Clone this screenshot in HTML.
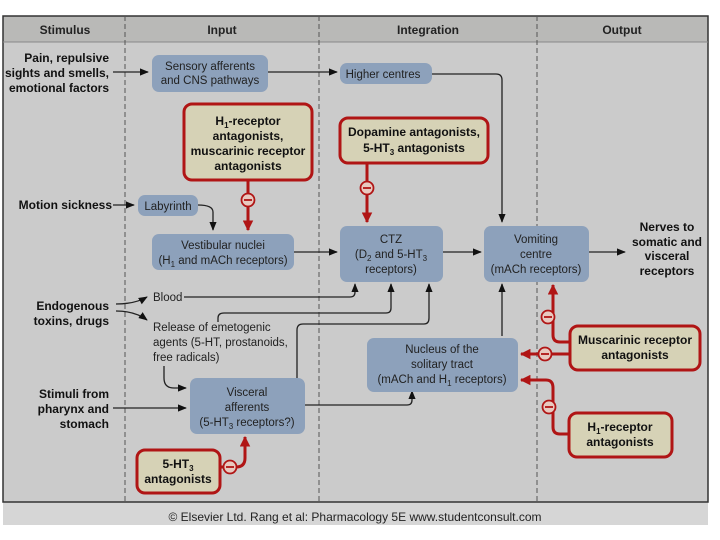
<!DOCTYPE html>
<html><head><meta charset="utf-8"><style>
body{margin:0;background:#fff}
svg{display:block}
text{font-family:"Liberation Sans",sans-serif;}
.b{font-weight:bold;font-size:12px;fill:#111}
.n{font-size:11.5px;fill:#222}
.h{font-weight:bold;font-size:12px;fill:#222}
</style></head><body>
<svg width="720" height="540" viewBox="0 0 720 540" xmlns="http://www.w3.org/2000/svg">
<defs>
<marker id="a" viewBox="0 0 10 10" refX="9" refY="5" markerWidth="7" markerHeight="7" orient="auto-start-reverse"><path d="M0,1 L10,5 L0,9 z" fill="#111"/></marker>
<marker id="r" viewBox="0 0 10 10" refX="9" refY="5" markerWidth="3.5" markerHeight="3.5" orient="auto-start-reverse"><path d="M0,0 L10,5 L0,10 z" fill="#b01515"/></marker>
</defs>
<rect x="0" y="0" width="720" height="540" fill="#fff"/>
<rect x="3" y="16" width="705" height="509" fill="#cbcbcb"/>
<rect x="3" y="16" width="705" height="26" fill="#b9b9b7"/>
<rect x="3" y="502" width="705" height="23" fill="#d6d6d6"/>
<rect x="3" y="16" width="705" height="486" fill="none" stroke="#333" stroke-width="1.5"/>
<line x1="3" y1="42" x2="708" y2="42" stroke="#888"/>
<g stroke="#555" stroke-dasharray="5,3" stroke-width="1">
<line x1="125" y1="16" x2="125" y2="502"/><line x1="319" y1="16" x2="319" y2="502"/><line x1="537" y1="16" x2="537" y2="502"/></g>
<text class="h" x="65" y="34" text-anchor="middle">Stimulus</text>
<text class="h" x="222" y="34" text-anchor="middle">Input</text>
<text class="h" x="428" y="34" text-anchor="middle">Integration</text>
<text class="h" x="622" y="34" text-anchor="middle">Output</text>
<text x="355" y="521" text-anchor="middle" font-size="12" fill="#222">© Elsevier Ltd. Rang et al: Pharmacology 5E www.studentconsult.com</text>

<g stroke="#222" stroke-width="1.3" fill="none" marker-end="url(#a)">
<path d="M113,72 H148"/>
<path d="M268,72 H337"/>
<path d="M432,74 H496 Q502,74 502,80 V222"/>
<path d="M113,205 H134"/>
<path d="M198,205 Q213,205 213,212 V230"/>
<path d="M294,252 H337"/>
<path d="M443,252 H481"/>
<path d="M589,252 H625"/>
<path d="M184,297 H350 Q355,297 355,292 V284"/>
<path d="M218,322 V318 Q218,313 224,313 H386 Q391,313 391,308 V284"/>
<path d="M297,378 V330 Q297,324 303,324 H424 Q429,324 429,318 V284"/>
<path d="M502,336 V284"/>
<path d="M305,405 H407 Q412,405 412,400 V391"/>
<path d="M113,408 H186"/>
<path d="M164,366 V378 Q164,388 174,388 H186"/>
<path d="M116,304 Q135,304 147,297"/>
<path d="M116,311 Q135,311 147,320"/>
</g>

<g stroke="#b01515" stroke-width="3" fill="none" marker-end="url(#r)">
<path d="M248,180 V230"/>
<path d="M367,163 V222"/>
<path d="M570,342 H560 Q553,342 553,335 V285"/>
<path d="M570,354 H521"/>
<path d="M568,434 H560 Q553,434 553,427 V388 Q553,380 546,380 H521"/>
<path d="M220,467 H236 Q245,467 245,458 V437"/>
</g>
<g fill="#e8c9c0" stroke="#b01515" stroke-width="1.8">
<circle cx="248" cy="200" r="6.5"/><circle cx="367" cy="188" r="6.5"/>
<circle cx="548" cy="317" r="6.5"/><circle cx="545" cy="354" r="6.5"/>
<circle cx="549" cy="407" r="6.5"/><circle cx="230" cy="467" r="6.5"/>
</g>
<g stroke="#b01515" stroke-width="1.8">
<line x1="244" y1="200" x2="252" y2="200"/><line x1="363" y1="188" x2="371" y2="188"/>
<line x1="544" y1="317" x2="552" y2="317"/><line x1="541" y1="354" x2="549" y2="354"/>
<line x1="545" y1="407" x2="553" y2="407"/><line x1="226" y1="467" x2="234" y2="467"/>
</g>

<g fill="#8da1bb">
<rect x="152" y="55" width="116" height="37" rx="7"/>
<rect x="340" y="63" width="92" height="21" rx="7"/>
<rect x="138" y="195" width="60" height="21" rx="7"/>
<rect x="152" y="234" width="142" height="36" rx="7"/>
<rect x="340" y="226" width="103" height="56" rx="7"/>
<rect x="484" y="226" width="105" height="56" rx="7"/>
<rect x="367" y="338" width="151" height="54" rx="7"/>
<rect x="190" y="378" width="115" height="56" rx="7"/>
</g>
<g fill="#d6d2b6" stroke="#b01515" stroke-width="3">
<rect x="184" y="104" width="128" height="76" rx="8"/>
<rect x="340" y="118" width="148" height="45" rx="8"/>
<rect x="137" y="450" width="83" height="43" rx="8"/>
<rect x="570" y="326" width="130" height="44" rx="8"/>
<rect x="569" y="413" width="103" height="44" rx="8"/>
</g>

<g class="b" text-anchor="end">
<text x="109" y="62">Pain, repulsive</text>
<text x="109" y="77">sights and smells,</text>
<text x="109" y="92">emotional factors</text>
<text x="112" y="209">Motion sickness</text>
<text x="109" y="310">Endogenous</text>
<text x="109" y="325">toxins, drugs</text>
<text x="109" y="398">Stimuli from</text>
<text x="109" y="413">pharynx and</text>
<text x="109" y="428">stomach</text>
</g>
<g class="b" text-anchor="middle">
<text x="667" y="231">Nerves to</text>
<text x="667" y="246">somatic and</text>
<text x="667" y="260">visceral</text>
<text x="667" y="275">receptors</text>
<text x="248" y="125">H<tspan font-size="8" dy="3">1</tspan><tspan dy="-3">-receptor</tspan></text>
<text x="248" y="140">antagonists,</text>
<text x="248" y="155">muscarinic receptor</text>
<text x="248" y="170">antagonists</text>
<text x="414" y="136">Dopamine antagonists,</text>
<text x="414" y="152">5-HT<tspan font-size="8" dy="3">3</tspan><tspan dy="-3"> antagonists</tspan></text>
<text x="178" y="468">5-HT<tspan font-size="8" dy="3">3</tspan></text>
<text x="178" y="483">antagonists</text>
<text x="635" y="344">Muscarinic receptor</text>
<text x="635" y="359">antagonists</text>
<text x="620" y="431">H<tspan font-size="8" dy="3">1</tspan><tspan dy="-3">-receptor</tspan></text>
<text x="620" y="446">antagonists</text>
</g>
<g class="n" text-anchor="middle">
<text x="210" y="70">Sensory afferents</text>
<text x="210" y="84">and CNS pathways</text>
<text x="383" y="78">Higher centres</text>
<text x="168" y="210">Labyrinth</text>
<text x="223" y="249">Vestibular nuclei</text>
<text x="223" y="264">(H<tspan font-size="8" dy="3">1</tspan><tspan dy="-3"> and mACh receptors)</tspan></text>
<text x="391" y="243">CTZ</text>
<text x="391" y="258">(D<tspan font-size="8" dy="3">2</tspan><tspan dy="-3"> and 5-HT</tspan><tspan font-size="8" dy="3">3</tspan></text>
<text x="391" y="273">receptors)</text>
<text x="536" y="243">Vomiting</text>
<text x="536" y="258">centre</text>
<text x="536" y="273">(mACh receptors)</text>
<text x="442" y="353">Nucleus of the</text>
<text x="442" y="368">solitary tract</text>
<text x="442" y="383">(mACh and H<tspan font-size="8" dy="3">1</tspan><tspan dy="-3"> receptors)</tspan></text>
<text x="247" y="396">Visceral</text>
<text x="247" y="411">afferents</text>
<text x="247" y="426">(5-HT<tspan font-size="8" dy="3">3</tspan><tspan dy="-3"> receptors?)</tspan></text>
</g>
<g class="n">
<text x="153" y="301">Blood</text>
<text x="153" y="331">Release of emetogenic</text>
<text x="153" y="346">agents (5-HT, prostanoids,</text>
<text x="153" y="361">free radicals)</text>
</g>
</svg>
</body></html>
